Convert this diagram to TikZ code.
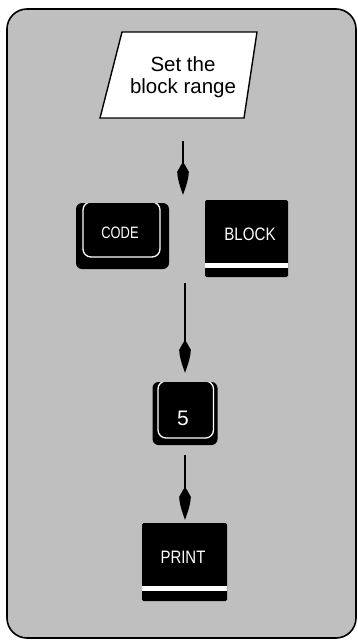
\documentclass[tikz,border=0pt]{standalone}
\usepackage{fontspec}
\setmainfont{Liberation Sans}
\usepackage{graphicx}
\begin{document}
\begin{tikzpicture}[x=1pt,y=-1pt,
  panel/.style={draw=black, line width=1.6pt, rounded corners=20pt, fill=black!25},
  datanote/.style={draw=black, line width=1.4pt, fill=white, line join=miter},
  keybody/.style={fill=black, inner sep=0pt},
  roundkey/.style={keybody, rounded corners=6pt},
  squarekey/.style={keybody, rounded corners=1.5pt},
  keyface/.style={draw=white, line width=1.3pt, rounded corners=8pt},
  keystripe/.style={fill=white},
  keylabel/.style={text=white, inner sep=0pt},
  flowline/.style={line width=2pt, shorten >=8pt},
  spear/.pic={
    \fill (0,0) .. controls (-3,-8) and (-5.8,-17) .. (-5.8,-23)
      -- (-1.3,-31) -- (1.3,-31) -- (5.8,-23)
      .. controls (5.8,-17) and (3,-8) .. (0,0) -- cycle;
  },
]
\useasboundingbox (0,0) rectangle (357,640);

% background panel
\draw[panel] (7,9) rectangle (356,638);

% parallelogram with the instruction
\draw[datanote] (122,32) -- (257,32) -- (244,118) -- (100,118) -- cycle;
\node[align=center, inner sep=0pt,
      font=\fontsize{20.5}{22}\selectfont] (param) at (183,77) {Set the\\block range};

% CODE key
\node[roundkey, minimum width=93pt, minimum height=66pt] (codekey) at (122.5,236) {};
\begin{scope}
  \clip[rounded corners=6pt] (76,203) rectangle (169,269);
  \draw[keyface] (83,202) rectangle (160,257);
\end{scope}
\node[keylabel, font=\fontsize{16.5}{16.5}\selectfont] (codetext) at (120,233)
  {\scalebox{0.78}[1]{CODE}};

% BLOCK key
\node[squarekey, minimum width=83pt, minimum height=77pt] (block) at (246.5,238.5) {};
\fill[keystripe] (205,263) rectangle (288,268);
\node[keylabel, font=\fontsize{18}{18}\selectfont] (blocktext) at (250,234)
  {\scalebox{0.84}[1]{BLOCK}};

% 5 key
\node[roundkey, minimum width=65pt, minimum height=63pt] (key5) at (185,413.5) {};
\begin{scope}
  \clip[rounded corners=6pt] (152.5,382) rectangle (217.5,445);
  \draw[keyface] (158,381) rectangle (213.5,438);
\end{scope}
\node[keylabel, font=\fontsize{21}{21}\selectfont] (fivetext) at (183,418.5) {5};

% PRINT key
\node[squarekey, minimum width=85pt, minimum height=78pt] (printkey) at (184.5,562) {};
\fill[keystripe] (142,586) rectangle (227,591);
\node[keylabel, font=\fontsize{18}{18}\selectfont] (printtext) at (183,557)
  {\scalebox{0.83}[1]{PRINT}};

% flow arrows with spear-shaped heads
\coordinate (tip1) at ([yshift=5pt]param.south |- block.north);
\coordinate (tip2) at ([yshift=9pt]key5.north);
\coordinate (tip3) at ([yshift=3pt]key5.south |- printkey.north);
\draw[flowline, shorten <=43pt] (param.south) -- (tip1);
\draw[flowline, shorten <=6pt] (key5.north |- block.south) -- (tip2);
\draw[flowline, shorten <=10pt] (key5.south) -- (tip3);
\pic at (tip1) {spear};
\pic at (tip2) {spear};
\pic at (tip3) {spear};
\end{tikzpicture}
\end{document}
